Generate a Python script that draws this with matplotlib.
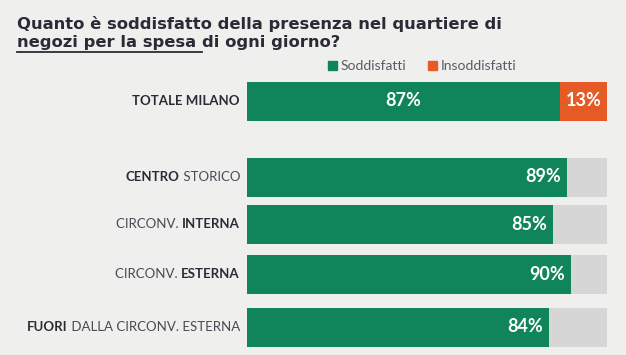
import matplotlib
matplotlib.use("Agg")
import matplotlib.pyplot as plt

categories = ["TOTALE MILANO", "CENTRO STORICO", "CIRCONV. INTERNA", "CIRCONV. ESTERNA", "FUORI DALLA CIRCONV. ESTERNA"]
# label parts: (text, bold)
label_parts = [
    [("TOTALE MILANO", True)],
    [("CENTRO", True), (" STORICO", False)],
    [("CIRCONV. ", False), ("INTERNA", True)],
    [("CIRCONV. ", False), ("ESTERNA", True)],
    [("FUORI", True), (" DALLA CIRCONV. ESTERNA", False)],
]
soddisfatti = [87, 89, 85, 90, 84]
insoddisfatti = [13, None, None, None, None]
legend_labels = ["Soddisfatti", "Insoddisfatti"]

W, H = 626, 355
BG = "#efefed"
GREEN = "#11855a"
ORANGE = "#e65a26"
GREY = "#d6d6d6"
DARK = "#2b2b36"
FONT = "Lato"
TFONT = "DejaVu Sans"

fig = plt.figure(figsize=(W / 100, H / 100), dpi=100, facecolor=BG)
ax = fig.add_axes([247 / W, 0, 360 / W, 1])
ax.set_facecolor(BG)
ax.set_xlim(0, 100)
ax.set_ylim(H, 0)
ax.axis("off")

ycent = [101, 177, 224, 274, 327]
bh = 39

for i, (s, ins) in enumerate(zip(soddisfatti, insoddisfatti)):
    y = ycent[i]
    if ins is not None:
        ax.barh(y, s, height=bh, color=GREEN, left=0)
        ax.barh(y, ins, height=bh, color=ORANGE, left=s)
        ax.text(s / 2, y, f"{s}%", color="white", ha="center", va="center",
                fontsize=13, fontweight="bold", family=FONT)
        ax.text(s + ins / 2, y, f"{ins}%", color="white", ha="center", va="center",
                fontsize=13, fontweight="bold", family=FONT)
    else:
        ax.barh(y, 100, height=bh, color=GREY, left=0)
        ax.barh(y, s, height=bh, color=GREEN, left=0)
        ax.annotate(f"{s}%", xy=(s, y), xytext=(-4.5, 0), textcoords="offset points",
                    color="white", ha="right", va="center", fontsize=13,
                    fontweight="bold", family=FONT)

# category labels with mixed weights, right-aligned
fig.canvas.draw()
renderer = fig.canvas.get_renderer()
xr = 240
for i, parts in enumerate(label_parts):
    yfig = 1 - ycent[i] / H
    x = xr
    for txt, bold in reversed(parts):
        t = fig.text(x / W, yfig, txt, ha="right", va="center", fontsize=9.5,
                     fontweight="bold" if bold else "normal",
                     color=DARK if bold else "#4a4a54", family=FONT)
        bb = t.get_window_extent(renderer)
        x -= bb.width

# title
TS = 11.8
fig.text(17 / W, 1 - 29 / H, "Quanto è soddisfatto della presenza nel quartiere di",
         ha="left", va="baseline", fontsize=TS, fontweight="bold", color=DARK, family=TFONT)
t1 = fig.text(17 / W, 1 - 47.5 / H, "negozi per la spesa ", ha="left", va="baseline",
              fontsize=TS, fontweight="bold", color=DARK, family=TFONT)
bb = t1.get_window_extent(renderer)
fig.text(bb.x1 / W, 1 - 47.5 / H, "di ogni giorno?", ha="left", va="baseline",
         fontsize=TS, fontweight="bold", color=DARK, family=TFONT)
fig.add_artist(plt.Line2D([bb.x0 / W, bb.x1 / W], [1 - 51.5 / H, 1 - 51.5 / H],
                          color=DARK, lw=1.3))

# legend
for (lx, col, lab) in [(328, GREEN, legend_labels[0]), (428, ORANGE, legend_labels[1])]:
    fig.patches.append(plt.Rectangle((lx / W, 1 - 70 / H), 9 / W, 9 / H,
                                     transform=fig.transFigure, color=col))
    fig.text((lx + 13) / W, 1 - 65.5 / H, lab, ha="left", va="center", fontsize=10,
             color="#5a5a64", family=FONT)

fig.savefig("out.png", dpi=100, facecolor=BG)
